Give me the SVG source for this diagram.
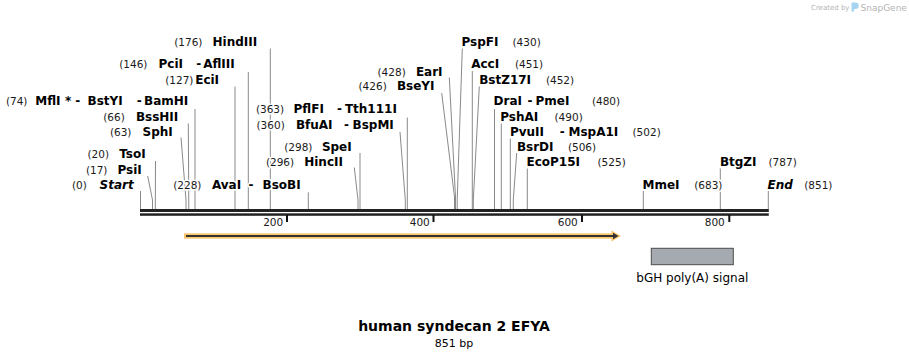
<svg xmlns="http://www.w3.org/2000/svg" width="909" height="359" viewBox="0 0 909 359">
<style>
text{font-family:'DejaVu Sans','Liberation Sans',sans-serif;fill:#000;stroke:#fff;stroke-width:3;paint-order:stroke;stroke-linejoin:round}
.n{font-size:10.5px;fill:#1a1a1a}
.b{font-size:12px;font-weight:bold}
.i{font-style:italic}
.d{font-size:12px;font-weight:bold}
.t{font-size:10.5px;fill:#1a1a1a;text-anchor:end;stroke:none}
.wm{stroke:none;fill:#b4b4b4}
#connectors polyline{stroke:#8a8a8a;stroke-width:1;fill:none}
</style>
<rect width="909" height="359" fill="#fff"/>

<g id="watermark">
<text class="wm" x="811" y="10" font-size="7px">Created by</text>
<path d="M851.5 2.5 h4 a3.2 3.2 0 0 1 0 6.4 h-1.5 v2.6 h-2.5 z" fill="#a6d3f0"/>
<text class="wm" x="860.5" y="10.8" font-size="9px" fill="#a8a8a8">SnapGene</text>
</g>

<g id="connectors">
<polyline points="140.5,191 140.5,209"/>
<polyline points="147.7,176 152.5,200 152.5,209"/>
<polyline points="155.5,161 155.3,209"/>
<polyline points="181,137.5 186,200 186,209"/>
<polyline points="188.3,123.5 188.8,209"/>
<polyline points="195,109 195,209"/>
<polyline points="235,86.5 235,209"/>
<polyline points="248.3,72 248.3,209"/>
<polyline points="270.3,48.5 270.3,209"/>
<polyline points="308.3,192.3 308.3,209"/>
<polyline points="354.3,167.5 358,200 358,209"/>
<polyline points="360,153 360,209"/>
<polyline points="400,132 405.3,200 405.3,209"/>
<polyline points="407.3,117.5 407.3,209"/>
<polyline points="441.7,93 454.5,197 454.5,209"/>
<polyline points="449.3,77.5 455.5,197 455.5,209"/>
<polyline points="462.3,48.5 457.2,200 457.2,209"/>
<polyline points="472.3,71 472.3,209"/>
<polyline points="479.3,86.5 473.3,200 473.3,209"/>
<polyline points="494.5,109 494.5,209"/>
<polyline points="501.3,123.5 501.3,209"/>
<polyline points="510.3,138.5 510.3,209"/>
<polyline points="516.7,153 513.3,200 513.3,209"/>
<polyline points="527.3,168.5 527.3,209"/>
<polyline points="643.3,191 643.3,209"/>
<polyline points="720.3,168.5 720.3,209"/>
<polyline points="768.3,191 768.3,209"/>
</g>

<g id="ruler">
<rect x="140" y="209" width="628.8" height="3" fill="#222"/>
<rect x="140" y="213.3" width="628.8" height="2.5" fill="#222"/>
<rect x="286" y="215" width="2" height="7" fill="#111"/>
<rect x="432.5" y="215" width="2" height="7" fill="#111"/>
<rect x="581" y="215" width="2" height="7" fill="#111"/>
<rect x="728.3" y="215" width="2" height="7" fill="#111"/>
<text class="t" x="283.2" y="226">200</text>
<text class="t" x="429.8" y="226">400</text>
<text class="t" x="577.8" y="226">600</text>
<text class="t" x="724.8" y="226">800</text>
</g>

<g id="orf">
<rect x="184" y="233.3" width="430" height="5.4" fill="#f9c66b"/>
<polygon points="611.5,230.5 621,236 611.5,241.5" fill="#f9c66b"/>
<line x1="186" y1="236" x2="614" y2="236" stroke="#333" stroke-width="2"/>
<polygon points="613,232.8 618.5,236 613,239.2" fill="#333"/>
</g>

<g id="bGH">
<rect x="651.3" y="248.3" width="82" height="16.4" fill="#a5aab1" stroke="#4d4d4d" stroke-width="1"/>
<text x="692.3" y="281.5" font-size="12px" text-anchor="middle" fill="#222" stroke="none">bGH poly(A) signal</text>
</g>

<g id="site-176"><text class="n" x="174.2" y="46">(176)</text><text class="b" x="212.5" y="46">HindIII</text></g>
<g id="site-146"><text class="n" x="119.2" y="68.3">(146)</text><text class="b" x="158.5" y="68.3">PciI</text><text class="d" x="196.2" y="68.3">-</text><text class="b" x="203.2" y="68.3">AflIII</text></g>
<g id="site-127"><text class="n" x="165.2" y="84.3">(127)</text><text class="b" x="195.2" y="84.3">EciI</text></g>
<g id="site-74"><text class="n" x="5.9" y="105">(74)</text><text class="b" x="35.2" y="105">MflI</text><text class="b" x="65" y="105">*</text><text class="d" x="75.2" y="105">-</text><text class="b" x="87.5" y="105">BstYI</text><text class="d" x="136.8" y="105">-</text><text class="b" x="144" y="105">BamHI</text></g>
<g id="site-66"><text class="n" x="103.2" y="121">(66)</text><text class="b" x="135.9" y="121">BssHII</text></g>
<g id="site-63"><text class="n" x="109.9" y="136">(63)</text><text class="b" x="142.5" y="136">SphI</text></g>
<g id="site-20"><text class="n" x="87.5" y="158.3">(20)</text><text class="b" x="119.2" y="158.3">TsoI</text></g>
<g id="site-17"><text class="n" x="85.9" y="174">(17)</text><text class="b" x="117.5" y="174">PsiI</text></g>
<g id="start"><text class="n" x="71.9" y="189.3">(0)</text><text class="b i" x="99.5" y="189.3">Start</text></g>
<g id="site-228"><text class="n" x="173.2" y="189.3">(228)</text><text class="b" x="211.9" y="189.3">AvaI</text><text class="d" x="248.5" y="189.3">-</text><text class="b" x="262.5" y="189.3">BsoBI</text></g>
<g id="site-363"><text class="n" x="255.9" y="113.3">(363)</text><text class="b" x="293.5" y="113.3">PflFI</text><text class="d" x="337" y="113.3">-</text><text class="b" x="344.9" y="113.3">Tth111I</text></g>
<g id="site-360"><text class="n" x="256.5" y="129">(360)</text><text class="b" x="295.9" y="129">BfuAI</text><text class="d" x="344" y="129">-</text><text class="b" x="352.5" y="129">BspMI</text></g>
<g id="site-298"><text class="n" x="284.2" y="150.7">(298)</text><text class="b" x="321.9" y="150.7">SpeI</text></g>
<g id="site-296"><text class="n" x="265.9" y="165.7">(296)</text><text class="b" x="304.2" y="165.7">HincII</text></g>
<g id="site-428"><text class="n" x="377.5" y="75.7">(428)</text><text class="b" x="415.9" y="75.7">EarI</text></g>
<g id="site-426"><text class="n" x="358.5" y="90">(426)</text><text class="b" x="396.9" y="90">BseYI</text></g>
<g id="site-430"><text class="b" x="461.5" y="46">PspFI</text><text class="n" x="512.5" y="46">(430)</text></g>
<g id="site-451"><text class="b" x="471.2" y="68.3">AccI</text><text class="n" x="514.9" y="68.3">(451)</text></g>
<g id="site-452"><text class="b" x="479.2" y="84.3">BstZ17I</text><text class="n" x="545.9" y="84.3">(452)</text></g>
<g id="site-480"><text class="b" x="493.5" y="105">DraI</text><text class="d" x="527.5" y="105">-</text><text class="b" x="535.5" y="105">PmeI</text><text class="n" x="591.9" y="105">(480)</text></g>
<g id="site-490"><text class="b" x="500.2" y="121">PshAI</text><text class="n" x="554.5" y="121">(490)</text></g>
<g id="site-502"><text class="b" x="509.9" y="136">PvuII</text><text class="d" x="559.8" y="136">-</text><text class="b" x="568.5" y="136">MspA1I</text><text class="n" x="632.5" y="136">(502)</text></g>
<g id="site-506"><text class="b" x="516.9" y="150.5">BsrDI</text><text class="n" x="567.9" y="150.5">(506)</text></g>
<g id="site-525"><text class="b" x="526.5" y="166">EcoP15I</text><text class="n" x="597.5" y="166">(525)</text></g>
<g id="site-787"><text class="b" x="719.9" y="166">BtgZI</text><text class="n" x="768.5" y="166">(787)</text></g>
<g id="site-683"><text class="b" x="642.5" y="188.7">MmeI</text><text class="n" x="694.2" y="188.7">(683)</text></g>
<g id="end"><text class="b i" x="767.5" y="189">End</text><text class="n" x="804.2" y="189">(851)</text></g>

<g id="title">
<text x="454" y="331" font-size="14px" font-weight="bold" text-anchor="middle" stroke="none">human syndecan 2 EFYA</text>
<text x="454" y="347" font-size="11px" text-anchor="middle" fill="#222" stroke="none">851 bp</text>
</g>
</svg>
